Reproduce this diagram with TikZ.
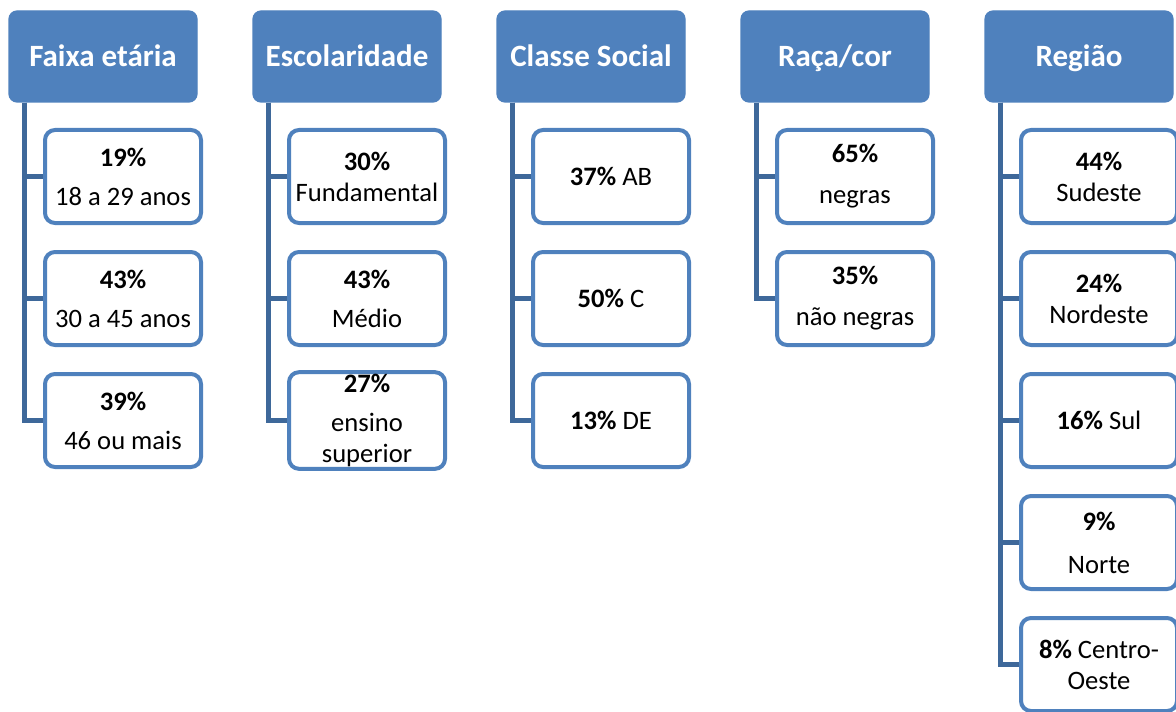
\documentclass[tikz,border=0pt]{standalone}
\usepackage{fontspec}
\setmainfont{Carlito}
\definecolor{accent}{RGB}{79,129,189}
\definecolor{linkblue}{RGB}{62,104,154}

\tikzset{
  header/.style={draw=accent, fill=accent, line width=0.6pt, rounded corners=4pt,
    minimum width=94pt, minimum height=45.5pt, text=white,
    text height=12pt, text depth=2pt,
    font=\fontsize{15.5}{18}\selectfont\bfseries},
  child/.style={draw=accent, fill=white, line width=2pt, rounded corners=5pt,
    minimum width=78pt, minimum height=46.5pt, align=center, inner sep=1pt,
    font=\fontsize{13.3}{15.5}\selectfont},
  conn/.style={draw=linkblue, line width=2.5pt}
}

\begin{document}
\begin{tikzpicture}[x=0.5pt, y=-0.5pt]
\clip (0,0) rectangle (1176,711);
\useasboundingbox (0,0) rectangle (1176,711);

% category headers
\node[header] (fx)  at (103,56.5)  {Faixa etária};
\node[header] (esc) at (347,56.5)  {Escolaridade};
\node[header] (cls) at (591,56.5)  {Classe Social};
\node[header] (rc)  at (835,56.5)  {Raça/cor};
\node[header] (rg)  at (1079,56.5) {Região};

% faixa etaria
\node[child] (fx1) at (123,176.5) {\textbf{19\%}\\[4pt]18 a 29 anos};
\node[child] (fx2) at (123,298.5) {\textbf{43\%}\\[4pt]30 a 45 anos};
\node[child] (fx3) at (123,420.5) {\textbf{39\%}\\[4pt]46 ou mais};

% escolaridade
\node[child] (esc1) at (367,176.5) {\textbf{30\%}\\Fundamental};
\node[child] (esc2) at (367,298.5) {\textbf{43\%}\\[4pt]Médio};
\node[child] (esc3) at (367,420.5) {\textbf{27\%}\\[4pt]ensino\\superior};

% classe social
\node[child] (cls1) at (611,176.5) {\textbf{37\%} AB};
\node[child] (cls2) at (611,298.5) {\textbf{50\%} C};
\node[child] (cls3) at (611,420.5) {\textbf{13\%} DE};

% raca/cor
\node[child] (rc1) at (855,176.5) {\textbf{65\%}\\[5pt]negras};
\node[child] (rc2) at (855,298.5) {\textbf{35\%}\\[5pt]não negras};

% regiao
\node[child] (rg1) at (1099,176.5) {\textbf{44\%}\\Sudeste};
\node[child] (rg2) at (1099,298.5) {\textbf{24\%}\\Nordeste};
\node[child] (rg3) at (1099,420.5) {\textbf{16\%} Sul};
\node[child] (rg4) at (1099,542.5) {\textbf{9\%}\\[6pt]Norte};
\node[child] (rg5) at (1099,664.5) {\textbf{8\%} Centro-\\Oeste};

% connectors from each header down to its items
\draw[conn] ([xshift=8pt]fx.south west) |- (fx1.west);
\draw[conn] ([xshift=8pt]fx.south west) |- (fx2.west);
\draw[conn] ([xshift=8pt]fx.south west) |- (fx3.west);

\draw[conn] ([xshift=8pt]esc.south west) |- (esc1.west);
\draw[conn] ([xshift=8pt]esc.south west) |- (esc2.west);
\draw[conn] ([xshift=8pt]esc.south west) |- (esc3.west);

\draw[conn] ([xshift=8pt]cls.south west) |- (cls1.west);
\draw[conn] ([xshift=8pt]cls.south west) |- (cls2.west);
\draw[conn] ([xshift=8pt]cls.south west) |- (cls3.west);

\draw[conn] ([xshift=8pt]rc.south west) |- (rc1.west);
\draw[conn] ([xshift=8pt]rc.south west) |- (rc2.west);

\draw[conn] ([xshift=8pt]rg.south west) |- (rg1.west);
\draw[conn] ([xshift=8pt]rg.south west) |- (rg2.west);
\draw[conn] ([xshift=8pt]rg.south west) |- (rg3.west);
\draw[conn] ([xshift=8pt]rg.south west) |- (rg4.west);
\draw[conn] ([xshift=8pt]rg.south west) |- (rg5.west);
\end{tikzpicture}
\end{document}
